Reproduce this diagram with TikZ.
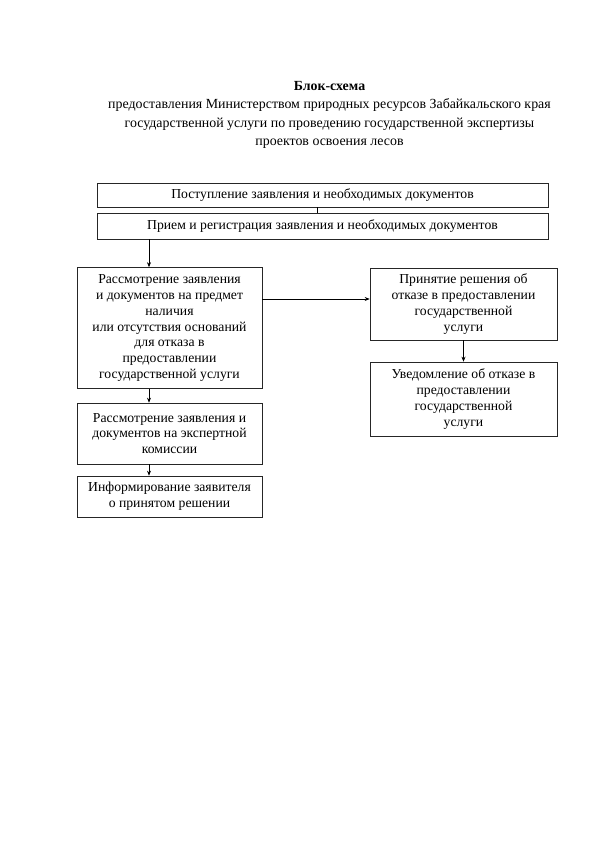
\documentclass[tikz,border=0pt]{standalone}
\usepackage{fontspec}
\setmainfont{Liberation Serif}
\usetikzlibrary{arrows.meta}
\begin{document}
\begin{tikzpicture}[x=1pt,y=-1pt,
  box/.style={draw=black!85, line width=0.6pt, align=center, inner sep=1pt,
    font=\fontsize{13.7}{15.8}\selectfont},
  arr/.style={draw=black, line width=0.6pt, -{Stealth[length=5pt,width=4pt]}},
  ln/.style={draw=black, line width=0.6pt}]
\useasboundingbox (0,0) rectangle (595,842);
\node[align=center, font=\fontsize{13.9}{18.2}\selectfont] (title) at (329.5,115)
  {\textbf{Блок-схема}\\
   предоставления Министерством природных ресурсов Забайкальского края\\
   государственной услуги по проведению государственной экспертизы\\
   проектов освоения лесов};
\node[box, minimum width=451pt, minimum height=24pt] (b1) at (322.5,195)
  {Поступление заявления и необходимых документов};
\node[box, minimum width=451pt, minimum height=26pt] (b2) at (322.5,226)
  {Прием и регистрация заявления и необходимых документов};
\node[box, minimum width=185pt, minimum height=121pt] (b3) at (169.5,328)
  {Рассмотрение заявления\\ и документов на предмет\\ наличия\\ или отсутствия оснований\\ для отказа в\\ предоставлении\\ государственной услуги};
\node[box, minimum width=187pt, minimum height=72pt] (b4) at (463.5,304)
  {Принятие решения об\\ отказе в предоставлении\\ государственной\\ услуги};
\node[box, minimum width=187pt, minimum height=74pt] (b5) at (463.5,399)
  {Уведомление об отказе в\\ предоставлении\\ государственной\\ услуги};
\node[box, minimum width=185pt, minimum height=61pt] (b6) at (169.5,433.5)
  {Рассмотрение заявления и\\ документов на экспертной\\ комиссии};
\node[box, minimum width=185pt, minimum height=41pt] (b7) at (169.5,496.5)
  {Информирование заявителя\\ о принятом решении};
\coordinate (b3r) at ([yshift=29pt]b3.east);
\draw[ln] ([xshift=-5.5pt]b1.south) -- ([xshift=-5.5pt]b2.north);
\draw[arr] ([xshift=-20.5pt]b3.north |- b2.south) -- ([xshift=-20.5pt]b3.north);
\draw[arr] (b3r) -- (b4.west |- b3r);
\draw[arr] (b4.south) -- (b5.north);
\draw[arr] ([xshift=-20.5pt]b3.south) -- ([xshift=-20.5pt]b6.north);
\draw[arr] ([xshift=-20.5pt]b6.south) -- ([xshift=-20.5pt]b7.north);
\end{tikzpicture}
\end{document}
